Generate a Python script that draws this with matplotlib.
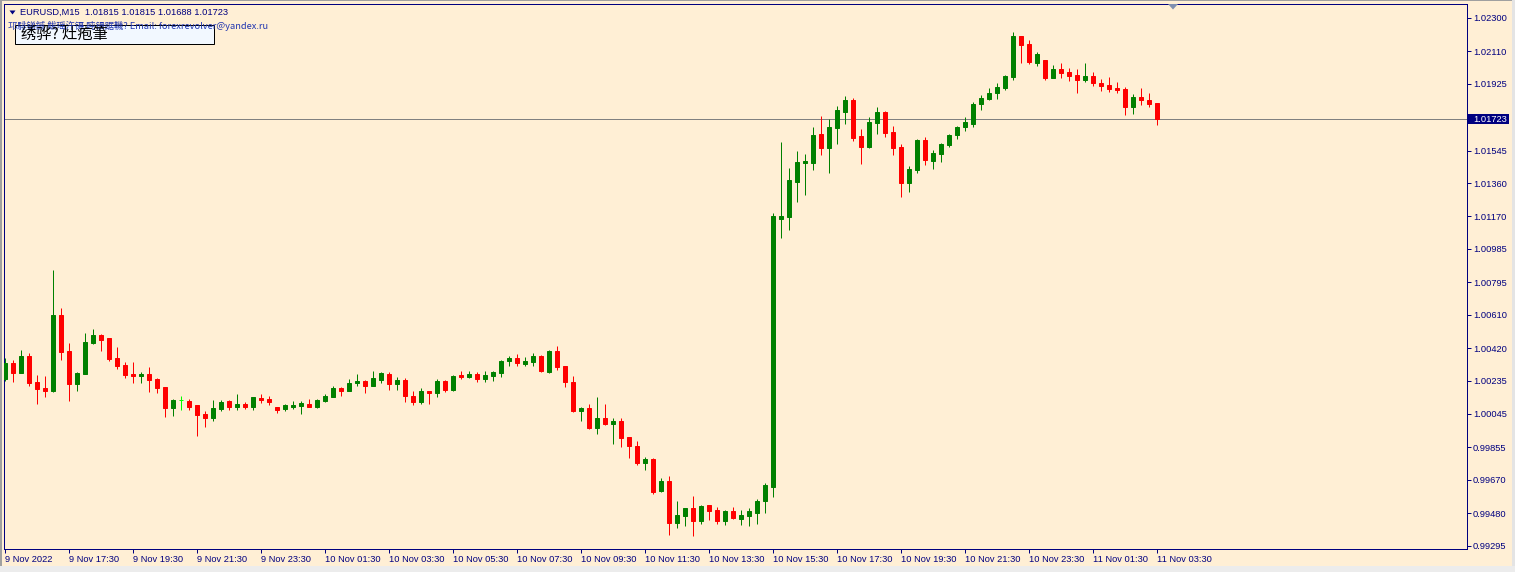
import matplotlib
matplotlib.use("Agg")
import matplotlib.pyplot as plt
from matplotlib.patches import Rectangle, Polygon
import matplotlib.transforms as mtransforms

# ---------------- data (EURUSD M15) ----------------
opens = [1.00244, 1.00335, 1.00279, 1.00375, 1.00227, 1.00193, 1.00176, 1.00609, 1.00404, 1.00216,
         1.00273, 1.00449, 1.00495, 1.00478, 1.00364, 1.00324, 1.00273, 1.00261, 1.00273, 1.00244,
         1.00199, 1.00079, 1.00125, 1.00119, 1.00096, 1.00045, 1.00022, 1.00073, 1.00119, 1.00085,
         1.00102, 1.00085, 1.00136, 1.00130, 1.00085, 1.00073, 1.00085, 1.00091, 1.00102, 1.00085,
         1.00119, 1.00142, 1.00193, 1.00176, 1.00222, 1.00233, 1.00205, 1.00239, 1.00273, 1.00216,
         1.00239, 1.00148, 1.00113, 1.00176, 1.00165, 1.00233, 1.00182, 1.00267, 1.00256, 1.00273,
         1.00244, 1.00261, 1.00279, 1.00347, 1.00364, 1.00330, 1.00341, 1.00375, 1.00284, 1.00404,
         1.00318, 1.00227, 1.00062, 1.00079, 0.99965, 1.00022, 0.99988, 1.00005, 0.99914, 0.99863,
         0.99766, 0.99789, 0.99607, 0.99664, 0.99424, 0.99464, 0.99510, 0.99436, 0.99527, 0.99498,
         0.99436, 0.99493, 0.99447, 0.99464, 0.99481, 0.99550, 0.99629, 1.01155, 1.01167, 1.01366,
         1.01474, 1.01474, 1.01639, 1.01560, 1.01674, 1.01765, 1.01833, 1.01628, 1.01565, 1.01702,
         1.01765, 1.01651, 1.01565, 1.01360, 1.01434, 1.01605, 1.01486, 1.01526, 1.01577, 1.01634,
         1.01679, 1.01696, 1.01810, 1.01839, 1.01875, 1.01901, 1.01964, 1.02198, 1.02152, 1.02044,
         1.02061, 1.01958, 1.02010, 1.01993, 1.01975, 1.01947, 1.01970, 1.01930, 1.01919, 1.01901,
         1.01896, 1.01793, 1.01850, 1.01833, 1.01815]
highs = [1.00364, 1.00353, 1.00410, 1.00392, 1.00267, 1.00261, 1.00865, 1.00649, 1.00449, 1.00284,
         1.00506, 1.00529, 1.00501, 1.00480, 1.00427, 1.00341, 1.00341, 1.00284, 1.00313, 1.00250,
         1.00199, 1.00130, 1.00148, 1.00130, 1.00096, 1.00062, 1.00125, 1.00125, 1.00125, 1.00159,
         1.00113, 1.00142, 1.00159, 1.00148, 1.00085, 1.00102, 1.00119, 1.00119, 1.00130, 1.00130,
         1.00159, 1.00205, 1.00199, 1.00244, 1.00273, 1.00239, 1.00290, 1.00284, 1.00284, 1.00256,
         1.00250, 1.00176, 1.00193, 1.00178, 1.00244, 1.00239, 1.00267, 1.00290, 1.00290, 1.00284,
         1.00290, 1.00290, 1.00353, 1.00375, 1.00387, 1.00370, 1.00392, 1.00381, 1.00410, 1.00432,
         1.00318, 1.00261, 1.00085, 1.00102, 1.00142, 1.00102, 1.00022, 1.00022, 0.99914, 0.99891,
         0.99800, 0.99794, 0.99681, 0.99692, 0.99550, 0.99510, 0.99578, 0.99527, 0.99527, 0.99516,
         0.99498, 0.99516, 0.99498, 0.99510, 0.99561, 0.99652, 1.01190, 1.01594, 1.01446, 1.01543,
         1.01526, 1.01679, 1.01742, 1.01725, 1.01799, 1.01856, 1.01844, 1.01668, 1.01736, 1.01793,
         1.01770, 1.01685, 1.01582, 1.01457, 1.01611, 1.01622, 1.01548, 1.01588, 1.01639, 1.01685,
         1.01736, 1.01822, 1.01862, 1.01901, 1.01930, 1.01975, 1.02220, 1.02198, 1.02175, 1.02106,
         1.02061, 1.02032, 1.02044, 1.02015, 1.02010, 1.02044, 1.01993, 1.01953, 1.01964, 1.01936,
         1.01907, 1.01867, 1.01901, 1.01873, 1.01815]
lows = [1.00233, 1.00227, 1.00276, 1.00205, 1.00102, 1.00142, 1.00173, 1.00353, 1.00119, 1.00176,
        1.00270, 1.00446, 1.00404, 1.00347, 1.00301, 1.00250, 1.00222, 1.00222, 1.00170, 1.00165,
        1.00028, 1.00034, 1.00068, 1.00068, 0.99920, 0.99971, 1.00005, 1.00062, 1.00068, 1.00068,
        1.00073, 1.00068, 1.00108, 1.00096, 1.00051, 1.00062, 1.00073, 1.00045, 1.00085, 1.00079,
        1.00113, 1.00142, 1.00148, 1.00176, 1.00205, 1.00165, 1.00205, 1.00222, 1.00182, 1.00182,
        1.00113, 1.00096, 1.00102, 1.00102, 1.00142, 1.00170, 1.00176, 1.00244, 1.00250, 1.00227,
        1.00227, 1.00233, 1.00256, 1.00318, 1.00318, 1.00318, 1.00318, 1.00284, 1.00279, 1.00296,
        1.00199, 1.00056, 1.00005, 0.99960, 0.99931, 0.99982, 0.99874, 0.99857, 0.99794, 0.99755,
        0.99726, 0.99589, 0.99601, 0.99356, 0.99396, 0.99407, 0.99350, 0.99419, 0.99442, 0.99419,
        0.99413, 0.99447, 0.99413, 0.99407, 0.99419, 0.99481, 0.99572, 1.01047, 1.01093, 1.01252,
        1.01292, 1.01434, 1.01520, 1.01417, 1.01582, 1.01696, 1.01599, 1.01469, 1.01560, 1.01639,
        1.01622, 1.01520, 1.01281, 1.01309, 1.01417, 1.01463, 1.01440, 1.01480, 1.01565, 1.01611,
        1.01657, 1.01679, 1.01776, 1.01833, 1.01839, 1.01890, 1.01947, 1.02044, 1.02038, 1.02027,
        1.01947, 1.01958, 1.01958, 1.01941, 1.01873, 1.01936, 1.01913, 1.01884, 1.01879, 1.01873,
        1.01748, 1.01753, 1.01805, 1.01793, 1.01688]
closes = [1.00335, 1.00279, 1.00375, 1.00222, 1.00187, 1.00176, 1.00609, 1.00398, 1.00216, 1.00279,
          1.00455, 1.00495, 1.00466, 1.00358, 1.00318, 1.00267, 1.00261, 1.00273, 1.00239, 1.00193,
          1.00079, 1.00125, 1.00125, 1.00085, 1.00039, 1.00022, 1.00079, 1.00113, 1.00085, 1.00102,
          1.00085, 1.00142, 1.00125, 1.00113, 1.00068, 1.00096, 1.00096, 1.00108, 1.00085, 1.00125,
          1.00148, 1.00193, 1.00176, 1.00222, 1.00233, 1.00205, 1.00250, 1.00279, 1.00216, 1.00239,
          1.00148, 1.00113, 1.00176, 1.00165, 1.00233, 1.00182, 1.00261, 1.00256, 1.00273, 1.00244,
          1.00267, 1.00284, 1.00347, 1.00364, 1.00335, 1.00347, 1.00375, 1.00290, 1.00404, 1.00313,
          1.00227, 1.00062, 1.00079, 0.99965, 1.00022, 0.99988, 1.00005, 0.99908, 0.99863, 0.99766,
          0.99789, 0.99601, 0.99664, 0.99424, 0.99470, 0.99510, 0.99436, 0.99521, 0.99493, 0.99436,
          0.99493, 0.99453, 0.99470, 0.99493, 0.99550, 0.99641, 1.01173, 1.01173, 1.01377, 1.01480,
          1.01486, 1.01634, 1.01560, 1.01679, 1.01776, 1.01833, 1.01617, 1.01565, 1.01708, 1.01765,
          1.01645, 1.01560, 1.01360, 1.01440, 1.01605, 1.01491, 1.01531, 1.01582, 1.01634, 1.01679,
          1.01708, 1.01810, 1.01844, 1.01873, 1.01907, 1.01970, 1.02198, 1.02146, 1.02049, 1.02095,
          1.01958, 1.02010, 1.01987, 1.01970, 1.01947, 1.01970, 1.01930, 1.01913, 1.01896, 1.01890,
          1.01793, 1.01850, 1.01833, 1.01810, 1.01723]

x_tick_bars = [0, 8, 16, 24, 32, 40, 48, 56, 64, 72, 80, 88, 96, 104, 112, 120, 128, 136, 144]
x_tick_labels = ["9 Nov 2022", "9 Nov 17:30", "9 Nov 19:30", "9 Nov 21:30", "9 Nov 23:30",
                 "10 Nov 01:30", "10 Nov 03:30", "10 Nov 05:30", "10 Nov 07:30", "10 Nov 09:30",
                 "10 Nov 11:30", "10 Nov 13:30", "10 Nov 15:30", "10 Nov 17:30", "10 Nov 19:30",
                 "10 Nov 21:30", "10 Nov 23:30", "11 Nov 01:30", "11 Nov 03:30"]
y_ticks = [1.02300, 1.02110, 1.01925, 1.01545, 1.01360, 1.01170, 1.00985, 1.00795,
           1.00610, 1.00420, 1.00235, 1.00045, 0.99855, 0.99670, 0.99480, 0.99295]
y_tick_labels = ["%.5f" % v for v in y_ticks]
last_price = 1.01723

header_text = "EURUSD,M15  1.01815 1.01815 1.01688 1.01723"
comment_text = "邛騑锑鍼 鲅瑶汻镊 盹镘踞鞿? Email: forexrevolver@yandex.ru"
box_text = "绣骅? 灶疱筆"

# ---------------- style ----------------
BG = "#FFEFD5"
NAVY = "#000080"
UP = "#008000"
DOWN = "#FF0000"
DOJI = "#00FF00"
FONT = "Liberation Sans"
FS = 6.7

W, H, DPI = 1515, 572, 100
PX = 72.0 / DPI  # points per pixel

fig = plt.figure(figsize=(W / DPI, H / DPI), dpi=DPI, facecolor=BG)


def frect(x0, y0, x1, y1, **kw):
    """rectangle given in figure pixel coords (origin top-left)"""
    r = Rectangle((x0 / W, 1 - y1 / H), (x1 - x0) / W, (y1 - y0) / H,
                  transform=fig.transFigure, **kw)
    fig.add_artist(r)
    return r


# window frame strips
frect(0, 0, 2, H, facecolor="#A0A0A0", edgecolor="none")
frect(0, 0, W, 1, facecolor="#A0A0A0", edgecolor="none")
frect(1512, 0, W, H, facecolor="#E4E4E4", edgecolor="none")
frect(0, 566, W, H, facecolor="#ECECEC", edgecolor="none")

AX_L, AX_R, AX_T, AX_B = 4, 1467, 4, 549
ax = fig.add_axes([AX_L / W, 1 - AX_B / H, (AX_R - AX_L) / W, (AX_B - AX_T) / H])
ax.set_facecolor(BG)

n = len(opens)
xs = list(range(n))
cols = []
for o, c in zip(opens, closes):
    if c > o:
        cols.append(UP)
    elif c < o:
        cols.append(DOWN)
    else:
        cols.append(DOJI)

ax.vlines(xs, lows, highs, colors=cols, linewidth=1.0 * PX, zorder=3)
ax.bar(xs, [c - o for o, c in zip(opens, closes)], bottom=opens, width=0.5,
       color=cols, edgecolor=cols, linewidth=1.0 * PX, zorder=4)

# bid line
ax.axhline(last_price, color="#808080", linewidth=1.0 * PX, zorder=2)

# axes limits: bar 0 center at pixel 5.3, 8 px per bar
ax.set_xlim((AX_L - 5.3) / 8.0, (AX_R - 5.3) / 8.0)
ax.set_ylim(0.992762, 1.023797)

for s in ax.spines.values():
    s.set_color(NAVY)
    s.set_linewidth(1.0 * PX)

ax.yaxis.tick_right()
ax.set_yticks(y_ticks)
ax.set_yticklabels(y_tick_labels)
ax.set_xticks(x_tick_bars)
ax.set_xticklabels(x_tick_labels)
ax.tick_params(axis="both", direction="out", length=4 * PX, width=1.0 * PX, color=NAVY,
               labelcolor=NAVY, labelsize=FS)
ax.tick_params(axis="y", pad=2 * PX, left=False, right=True)
ax.tick_params(axis="x", pad=1.5 * PX)
for lbl in ax.get_xticklabels() + ax.get_yticklabels():
    lbl.set_fontfamily(FONT)
for lbl in ax.get_xticklabels():
    lbl.set_horizontalalignment("left")

# price box on the right axis
ppx = (1.02300 - 0.99295) / (545.7 - 18.0)
blend = mtransforms.blended_transform_factory(ax.transAxes, ax.transData)
box_w = 42.0 / (AX_R - AX_L)
ax.add_patch(Rectangle((1.0, last_price - 5.0 * ppx), box_w, 10.0 * ppx,
                       transform=blend, facecolor=NAVY, edgecolor="none",
                       clip_on=False, zorder=6))
ax.text(1.0 + 6.0 / (AX_R - AX_L), last_price, "%.5f" % last_price, transform=blend,
        color="white", fontsize=FS, family=FONT, va="center", ha="left",
        clip_on=False, zorder=7)

# chart-shift marker
fig.add_artist(Polygon([(1168 / W, 1 - 4 / H), (1178 / W, 1 - 4 / H), (1173 / W, 1 - 9.5 / H)],
                       closed=True, transform=fig.transFigure, facecolor="#7F8FB0",
                       edgecolor="none"))

# header
fig.add_artist(Polygon([(9.5 / W, 1 - 10.5 / H), (15.5 / W, 1 - 10.5 / H), (12.5 / W, 1 - 14.5 / H)],
                       closed=True, transform=fig.transFigure, facecolor=NAVY, edgecolor="none"))
fig.text(20 / W, 1 - 12.5 / H, header_text, fontsize=FS, family=FONT, color=NAVY,
         va="center", ha="left")

# label box and comment
frect(15, 25, 214, 44, facecolor="#F2F8FF", edgecolor="black", linewidth=1.0 * PX, zorder=5)
fig.text(8 / W, 1 - 25.5 / H, comment_text, fontsize=FS,
         family=["Noto Sans CJK SC", "Liberation Sans", "DejaVu Sans"], color="#2035B0",
         va="center", ha="left", zorder=6)
fig.text(21 / W, 1 - 34.5 / H, box_text, fontsize=11,
         family=["Noto Sans CJK SC", "DejaVu Sans"], color="black",
         va="center", ha="left", zorder=7)

fig.savefig("out.png", dpi=DPI, facecolor=BG)
